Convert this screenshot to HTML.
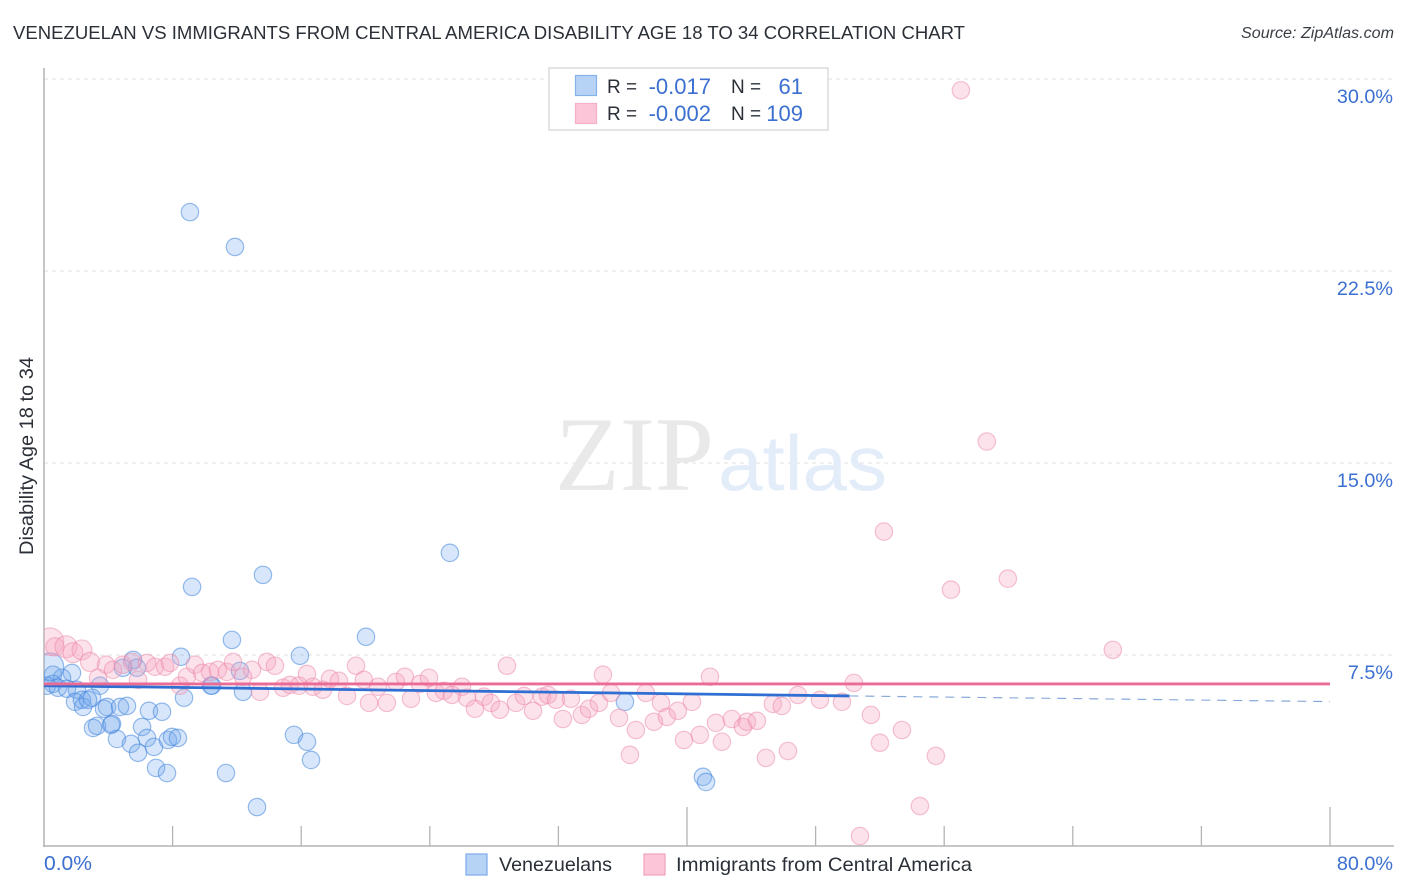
<!DOCTYPE html>
<html lang="en">
<head>
<meta charset="utf-8">
<title>Venezuelan vs Immigrants from Central America Disability Age 18 to 34 Correlation Chart</title>
<style>
html,body{margin:0;padding:0;background:#fff;width:1406px;height:892px;overflow:hidden}
svg{display:block;font-family:"Liberation Sans",sans-serif}
</style>
</head>
<body>
<svg id="chart" width="1406" height="892" viewBox="0 0 1406 892" xmlns="http://www.w3.org/2000/svg">
  <defs><clipPath id="plot-clip"><rect x="44" y="60" width="1350" height="786"/></clipPath></defs>
  <text x="13" y="39" font-size="18.5" fill="#2b3038" textLength="952" lengthAdjust="spacingAndGlyphs">VENEZUELAN VS IMMIGRANTS FROM CENTRAL AMERICA DISABILITY AGE 18 TO 34 CORRELATION CHART</text>
  <text x="1241" y="38" font-size="15.5" font-style="italic" fill="#3a3f46" textLength="153" lengthAdjust="spacingAndGlyphs">Source: ZipAtlas.com</text>
  <g id="grid"></g>
  <g>
    <text x="555" y="490" font-family="'Liberation Serif',serif" font-size="106" fill="#e9e9e9" textLength="159" lengthAdjust="spacingAndGlyphs">ZIP</text>
    <text x="718" y="490" font-size="78" fill="#e3ecf9" textLength="169" lengthAdjust="spacingAndGlyphs">atlas</text>
  </g>
  <g id="axes"></g>
  <g id="points" clip-path="url(#plot-clip)"></g>
  <g id="trends"></g>
  <g id="labels"></g>
  <text transform="translate(33,555) rotate(-90)" font-size="19.5" fill="#2b3038" textLength="198" lengthAdjust="spacingAndGlyphs">Disability Age 18 to 34</text>

  <g>
    <rect x="549" y="68" width="279" height="62" fill="#fff" stroke="#dcdcdc" stroke-width="1.5"/>
    <rect x="575.5" y="75.5" width="21" height="20" fill="#b6d3f6" stroke="#86b2ea" stroke-width="1.2"/>
    <rect x="575.5" y="103.5" width="21" height="20" fill="#fcc6d8" stroke="#f5afc8" stroke-width="1.2"/>
    <g font-size="19" fill="#2b3038">
      <text x="607" y="93">R =</text>
      <text x="731" y="93">N =</text>
      <text x="607" y="120">R =</text>
      <text x="731" y="120">N =</text>
    </g>
    <g font-size="22" fill="#3b6fd0" text-anchor="end">
      <text x="711" y="94">-0.017</text>
      <text x="803" y="94">61</text>
      <text x="711" y="121">-0.002</text>
      <text x="803" y="121">109</text>
    </g>
  </g>

  <g>
    <rect x="466" y="854" width="21" height="21" fill="#b6d3f6" stroke="#7dabe8" stroke-width="1.2"/>
    <text x="499" y="871" font-size="19.5" fill="#2b3038" textLength="113" lengthAdjust="spacingAndGlyphs">Venezuelans</text>
    <rect x="644" y="854" width="21" height="21" fill="#fcc6d8" stroke="#efa3bc" stroke-width="1.2"/>
    <text x="676" y="871" font-size="19.5" fill="#2b3038" textLength="296" lengthAdjust="spacingAndGlyphs">Immigrants from Central America</text>
  </g>
</svg>
<script>
const yGridValues = [7.5, 15, 22.5, 30];
const yTickLabels = ["7.5%", "15.0%", "22.5%", "30.0%"];
const xTickValues = [8, 16, 24, 32, 40, 48, 56, 64, 72, 80];
const xMajorTicks = [40, 80];
const xEndValues = [0, 80];
const xEndLabels = ["0.0%", "80.0%"];

const venX = [9.08,11.88,13.62,9.21,25.25,11.69,20.03,8.52,15.92,5.54,5.78,4.91,12.19,1.74,0.56,1.12,3.48,10.45,10.39,0.56,0.19,0.87,1.43,2.05,12.38,8.71,1.93,2.36,2.43,2.99,2.74,3.92,3.73,4.73,5.16,6.53,7.34,6.1,3.05,3.3,4.23,4.17,4.54,5.41,6.41,6.84,5.85,7.71,7.96,8.33,6.97,7.65,11.32,13.25,15.55,16.36,16.61,36.14,40.99,41.18,0.37];
const venY = [24.8,23.44,10.63,10.16,11.49,8.09,8.21,7.43,7.47,7.31,7.0,7.0,6.88,6.8,6.73,6.61,6.3,6.3,6.3,6.37,6.3,6.22,6.18,6.14,6.06,5.83,5.67,5.75,5.47,5.83,5.75,5.47,5.4,5.47,5.51,5.32,5.28,4.69,4.65,4.73,4.81,4.77,4.22,4.03,4.26,3.91,3.68,4.18,4.3,4.26,3.09,2.89,2.89,1.56,4.38,4.11,3.4,5.67,2.74,2.54,7.04];
const venWeight = [1,1,1,1,1,1,1,1,1,1,1,1,1,1,1,1,1,1,1,1,1,1,1,1,1,1,1,1,1,1,1,1,1,1,1,1,1,1,1,1,1,1,1,1,1,1,1,1,1,1,1,1,1,1,1,1,1,1,1,1,2.5];

const immX = [0.37,0.68,1.37,1.8,2.36,2.86,3.36,3.86,4.29,4.91,5.47,5.85,6.41,6.9,7.53,7.84,8.46,8.89,9.39,9.83,10.33,10.82,11.38,11.76,12.38,12.94,13.44,13.87,14.37,14.87,15.3,15.86,16.36,16.73,17.35,17.79,18.35,18.85,19.41,19.9,20.22,20.78,21.33,21.89,22.45,22.83,23.39,23.95,24.38,24.88,25.38,26,26.31,26.81,27.37,27.8,28.36,28.8,29.36,29.86,30.42,30.98,31.35,31.85,32.78,32.28,33.46,33.9,34.52,34.77,35.27,35.77,36.45,36.82,37.44,37.94,38.38,38.75,39.43,40.31,39.81,40.8,41.43,41.8,42.17,42.79,43.48,43.73,44.35,44.91,45.34,45.9,46.28,46.9,48.27,49.64,50.38,51.44,52,53.37,55.48,54.49,50.76,57.04,58.65,52.25,56.42,59.96,66.49];
const immY = [8.02,7.82,7.82,7.59,7.7,7.23,6.61,7.12,6.92,7.12,7.23,6.53,7.19,7.04,7.04,7.19,6.3,6.65,7.12,6.8,6.84,6.92,6.84,7.23,6.65,6.92,6.06,7.23,7.08,6.22,6.33,6.3,6.76,6.26,6.14,6.57,6.49,5.9,7.08,6.53,5.63,6.26,5.63,6.45,6.65,5.79,6.37,6.61,6.02,6.1,5.94,6.26,5.83,5.4,5.87,5.63,5.36,7.08,5.63,5.9,5.32,5.87,5.94,5.75,5.79,5.0,5.16,5.4,5.63,6.73,6.02,5.04,3.6,4.57,6.02,4.89,5.63,5.08,5.32,5.67,4.18,4.38,6.65,4.85,4.11,5.0,4.69,4.89,4.93,3.48,5.59,5.51,3.75,5.94,5.75,5.67,6.41,5.16,4.07,4.57,3.56,1.6,0.43,29.56,15.84,12.32,10.05,10.48,7.7];
const immWeight = [2.5,1.1,1.6,1.3,1.3,1.2,1,1,1,1,1,1,1,1,1,1,1,1,1,1,1,1,1,1,1,1,1,1,1,1,1,1,1,1,1,1,1,1,1,1,1,1,1,1,1,1,1,1,1,1,1,1,1,1,1,1,1,1,1,1,1,1,1,1,1,1,1,1,1,1,1,1,1,1,1,1,1,1,1,1,1,1,1,1,1,1,1,1,1,1,1,1,1,1,1,1,1,1,1,1,1,1,1,1,1,1,1,1,1];

const venTrendX = [0, 50.1, 80];
const venTrendY = [6.3, 5.9, 5.68];
const immTrendX = [0, 80];
const immTrendY = [6.37, 6.37];

const NS = "http://www.w3.org/2000/svg";
const scaleX = v => 44 + v * 16.075;
const scaleY = v => 847 - v * 25.6;
const radius = w => 8.7 * Math.sqrt(w);

function make(parentId, tag, attrs, text) {
  const el = document.createElementNS(NS, tag);
  for (const k in attrs) el.setAttribute(k, attrs[k]);
  if (text !== undefined) el.textContent = text;
  document.getElementById(parentId).appendChild(el);
  return el;
}

yGridValues.forEach((v, i) => {
  const g = make("grid", "line", {x1: 44, x2: 1394, y1: scaleY(v), y2: scaleY(v), stroke: "#e0e0e0", "stroke-width": 1, "stroke-dasharray": "4 4"});
  
  
  const t = make("labels", "text", {x: 1393, y: scaleY(v) + 24, "font-size": 19.8, fill: "#3b6fd0", "text-anchor": "end"}, yTickLabels[i]);
  
  
});

const yAxisLine = make("axes", "line", {x1: 44, x2: 44, y1: 68, y2: 847, stroke: "#b4b4b4", "stroke-width": 1.5});


const xAxisLine = make("axes", "line", {x1: 43, x2: 1394, y1: 846, y2: 846, stroke: "#b4b4b4", "stroke-width": 1.5});



xTickValues.forEach(v => {
  const top = xMajorTicks.includes(v) ? 807 : 826;
  const tick = make("axes", "line", {x1: scaleX(v), x2: scaleX(v), y1: top, y2: 846, stroke: "#b4b4b4", "stroke-width": 1.3});
  
  
});

xEndValues.forEach((v, i) => {
  const attrs = i === 0
    ? {x: scaleX(v), y: 870, "font-size": 20, fill: "#3b6fd0", textLength: 48, lengthAdjust: "spacingAndGlyphs"}
    : {x: 1393, y: 870, "font-size": 19.8, fill: "#3b6fd0", "text-anchor": "end"};
  const t = make("labels", "text", attrs, xEndLabels[i]);
  
  
});

venX.forEach((v, i) => {
  const c = make("points", "circle", {cx: scaleX(v), cy: scaleY(venY[i]), r: radius(venWeight[i]), fill: "rgba(110,165,236,0.28)", stroke: "rgba(70,135,220,0.55)", "stroke-width": 1.2});
  
  
});
immX.forEach((v, i) => {
  const c = make("points", "circle", {cx: scaleX(v), cy: scaleY(immY[i]), r: radius(immWeight[i]), fill: "rgba(247,165,192,0.32)", stroke: "rgba(235,135,170,0.5)", "stroke-width": 1.2});
  
  
});

const venSolid = make("trends", "line", {x1: scaleX(venTrendX[0]), y1: scaleY(venTrendY[0]), x2: scaleX(venTrendX[1]), y2: scaleY(venTrendY[1]), stroke: "#2f6fd2", "stroke-width": 2.8});


const venDash = make("trends", "line", {x1: scaleX(venTrendX[1]), y1: scaleY(venTrendY[1]), x2: scaleX(venTrendX[2]), y2: scaleY(venTrendY[2]), stroke: "#8aaada", "stroke-width": 1.2, "stroke-dasharray": "9 7"});


const immLine = make("trends", "line", {x1: scaleX(immTrendX[0]), y1: scaleY(immTrendY[0]), x2: scaleX(immTrendX[1]), y2: scaleY(immTrendY[1]), stroke: "#ea6b95", "stroke-width": 2.8});


</script>
</body>
</html>
